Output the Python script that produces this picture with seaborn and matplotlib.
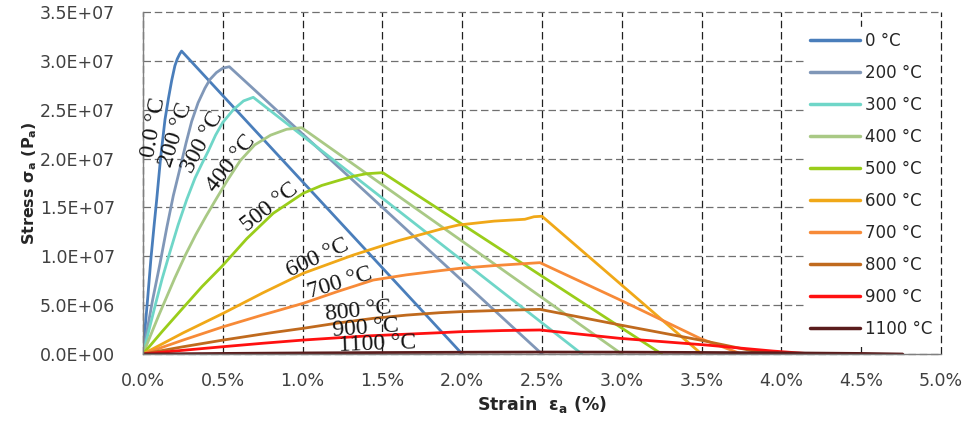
import numpy as np
import pandas as pd
import matplotlib
matplotlib.use("Agg")
import matplotlib.pyplot as plt
import seaborn as sns
from matplotlib.ticker import MultipleLocator, FuncFormatter

# temperatures (legend / labels)
temps = ["0 °C", "200 °C", "300 °C", "400 °C", "500 °C",
         "600 °C", "700 °C", "800 °C", "900 °C", "1100 °C"]
curve_labels = ["0.0 °C", "200 °C", "300 °C", "400 °C", "500 °C",
                "600 °C", "700 °C", "800 °C", "900 °C", "1100 °C"]

# strain (%) and stress (Pa)
e0 = [0, 0.015, 0.03, 0.05, 0.07, 0.086, 0.11, 0.138, 0.16, 0.18, 0.20, 0.215, 0.23, 0.242, 2.0]
s0 = [0, 0.30e7, 0.58e7, 0.98e7, 1.32e7, 1.58e7, 2.0e7, 2.40e7, 2.62e7, 2.80e7, 2.95e7, 3.02e7, 3.07e7, 3.10e7, 0]

e200 = [0, 0.03, 0.06, 0.106, 0.15, 0.19, 0.232, 0.27, 0.305, 0.345, 0.388, 0.42, 0.46, 0.50, 0.541, 2.5]
s200 = [0, 0.28e7, 0.55e7, 0.92e7, 1.30e7, 1.62e7, 1.90e7, 2.16e7, 2.38e7, 2.57e7, 2.72e7, 2.81e7, 2.88e7, 2.925e7, 2.94e7, 0]

e300 = [0, 0.04, 0.08, 0.12, 0.17, 0.22, 0.274, 0.326, 0.37, 0.41, 0.455, 0.50, 0.566, 0.63, 0.691, 2.75]
s300 = [0, 0.26e7, 0.52e7, 0.77e7, 1.05e7, 1.32e7, 1.58e7, 1.80e7, 1.95e7, 2.08e7, 2.24e7, 2.37e7, 2.50e7, 2.59e7, 2.627e7, 0]

e400 = [0, 0.1, 0.2, 0.265, 0.33, 0.395, 0.46, 0.53, 0.61, 0.70, 0.80, 0.90, 0.994, 3.0]
s400 = [0, 0.40e7, 0.78e7, 1.01e7, 1.22e7, 1.41e7, 1.59e7, 1.78e7, 1.98e7, 2.14e7, 2.24e7, 2.30e7, 2.316e7, 0]

e500 = [0, 0.12, 0.25, 0.37, 0.493, 0.65, 0.816, 1.004, 1.12, 1.234, 1.32, 1.40, 1.502, 3.25]
s500 = [0, 0.23e7, 0.47e7, 0.69e7, 0.894e7, 1.18e7, 1.44e7, 1.645e7, 1.725e7, 1.78e7, 1.82e7, 1.845e7, 1.856e7, 0]

e600 = [0, 0.25, 0.503, 0.75, 1.004, 1.318, 1.6, 1.861, 1.976, 2.20, 2.393, 2.45, 2.50, 3.5]
s600 = [0, 0.215e7, 0.417e7, 0.625e7, 0.826e7, 1.013e7, 1.16e7, 1.276e7, 1.32e7, 1.36e7, 1.379e7, 1.405e7, 1.41e7, 0]

e700 = [0, 0.25, 0.503, 0.75, 1.004, 1.22, 1.443, 1.65, 1.861, 1.986, 2.2, 2.42, 2.487, 2.99, 3.49, 3.75]
s700 = [0, 0.142e7, 0.279e7, 0.40e7, 0.519e7, 0.64e7, 0.757e7, 0.81e7, 0.853e7, 0.877e7, 0.905e7, 0.928e7, 0.935e7, 0.553e7, 0.16e7, 0]

e800 = [0, 0.25, 0.503, 0.75, 1.004, 1.22, 1.443, 1.65, 1.861, 1.986, 2.25, 2.487, 2.99, 3.49, 3.845, 4.0]
s800 = [0, 0.74e6, 1.43e6, 2.05e6, 2.63e6, 3.17e6, 3.65e6, 3.98e6, 4.23e6, 4.33e6, 4.47e6, 4.57e6, 2.97e6, 1.43e6, 0.24e6, 0]

e900 = [0, 0.25, 0.503, 0.75, 1.004, 1.4, 1.861, 1.986, 2.25, 2.487, 2.99, 3.53, 3.95, 4.2]
s900 = [0, 0.38e6, 0.75e6, 1.10e6, 1.43e6, 1.85e6, 2.18e6, 2.28e6, 2.40e6, 2.46e6, 1.6e6, 0.92e6, 0.3e6, 0]

e1100 = [0, 0.5, 1.0, 1.5, 2.0, 2.5, 3.0, 3.5, 4.0, 4.5, 4.76]
s1100 = [0, 0.6e5, 1.1e5, 1.5e5, 1.8e5, 2.0e5, 1.9e5, 1.6e5, 1.2e5, 0.6e5, 0]

strains = [e0, e200, e300, e400, e500, e600, e700, e800, e900, e1100]
stresses = [s0, s200, s300, s400, s500, s600, s700, s800, s900, s1100]

colors = ["#4a7ebb", "#8097b8", "#6fd6c8", "#a9c985", "#9acd1a",
          "#f0a818", "#f78a38", "#c06a1e", "#ff1010", "#5a1c1c"]

# where the in-plot labels sit (data coords) and their angle
label_pos = [(0.068, 2.32e7, 80), (0.21, 2.24e7, 72), (0.376, 2.17e7, 62),
             (0.551, 1.945e7, 52), (0.796, 1.505e7, 38), (1.096, 0.983e7, 25),
             (1.234, 0.727e7, 17), (1.347, 0.44e7, 6), (1.397, 0.266e7, 4),
             (1.472, 0.102e7, 2)]

# long-form table for seaborn
rows = []
for t, ee, ss in zip(temps, strains, stresses):
    for i, (e, s) in enumerate(zip(ee, ss)):
        rows.append({"temp": t, "strain": e, "stress": s, "idx": i})
df = pd.DataFrame(rows)

sns.set_style("white")
plt.rcParams["font.family"] = ["DejaVu Sans"]
plt.rcParams["mathtext.fontset"] = "custom"
plt.rcParams["mathtext.rm"] = "DejaVu Sans:bold"
plt.rcParams["mathtext.it"] = "DejaVu Sans:bold"
plt.rcParams["mathtext.bf"] = "DejaVu Sans:bold"

fig, ax = plt.subplots(figsize=(9.68, 4.21), dpi=100)
fig.subplots_adjust(left=0.1477, right=0.9721, top=0.9715, bottom=0.1591)

sns.lineplot(data=df, x="strain", y="stress", hue="temp", hue_order=temps,
             palette=colors, sort=False, estimator=None, units="temp",
             linewidth=2.0, ax=ax, legend=True)

ax.set_xlim(0, 5.0)
ax.set_ylim(0, 3.5e7)
ax.xaxis.set_major_locator(MultipleLocator(0.5))
ax.xaxis.set_minor_locator(MultipleLocator(0.1))
ax.yaxis.set_major_locator(MultipleLocator(5e6))
ax.yaxis.set_minor_locator(MultipleLocator(1e6))
ax.xaxis.set_major_formatter(FuncFormatter(lambda v, p: f"{v:.1f}%"))
ax.yaxis.set_major_formatter(FuncFormatter(lambda v, p: f"{v:.1E}"))

ax.tick_params(axis="both", which="major", direction="out", length=7,
               width=1, color="#808080", labelsize=12.5, labelcolor="#404040")
ax.tick_params(axis="both", which="minor", direction="out", length=4,
               width=1, color="#808080")
ax.tick_params(axis="y", which="major", pad=13)
ax.tick_params(axis="x", which="major", pad=6)

for side in ["top", "right"]:
    ax.spines[side].set_visible(False)
for side in ["left", "bottom"]:
    ax.spines[side].set_color("#808080")
    ax.spines[side].set_linewidth(1.0)
    ax.spines[side].set_zorder(3)

ax.grid(True, axis="x", which="major", color="#202020", linestyle=(0, (6, 3)), linewidth=0.9)
ax.grid(True, axis="y", which="major", color="#707070", linestyle=(0, (6, 3)), linewidth=0.9)
for gl in ax.get_xgridlines() + ax.get_ygridlines():
    gl.set_clip_on(False)
ax.set_axisbelow(True)

ax.set_xlabel(r"Strain  ε$_\mathrm{a}$ (%)", fontsize=12.5, fontweight="bold",
              color="#262626", labelpad=3)
ax.set_ylabel(r"Stress σ$_\mathrm{a}$ (P$_\mathrm{a}$)", fontsize=11.5, fontweight="bold",
              color="#262626", labelpad=1)

for lab, (x, y, rot) in zip(curve_labels, label_pos):
    ax.text(x, y, lab, rotation=rot, rotation_mode="anchor", ha="center", va="center",
            fontsize=17, family="Liberation Serif", color="#141414", zorder=4)

handles, labels = ax.get_legend_handles_labels()
leg = ax.legend(handles, labels, loc="upper right", bbox_to_anchor=(1.0, 0.965),
                frameon=True, fancybox=False, facecolor="white", edgecolor="white",
                framealpha=1.0, fontsize=12, handlelength=3.0, handletextpad=0.3,
                labelspacing=0.84, borderpad=0.3, borderaxespad=0.2)
for t in leg.get_texts():
    t.set_color("#262626")
for h in leg.get_lines():
    h.set_linewidth(2.5)

fig.savefig("out.png", dpi=100)
